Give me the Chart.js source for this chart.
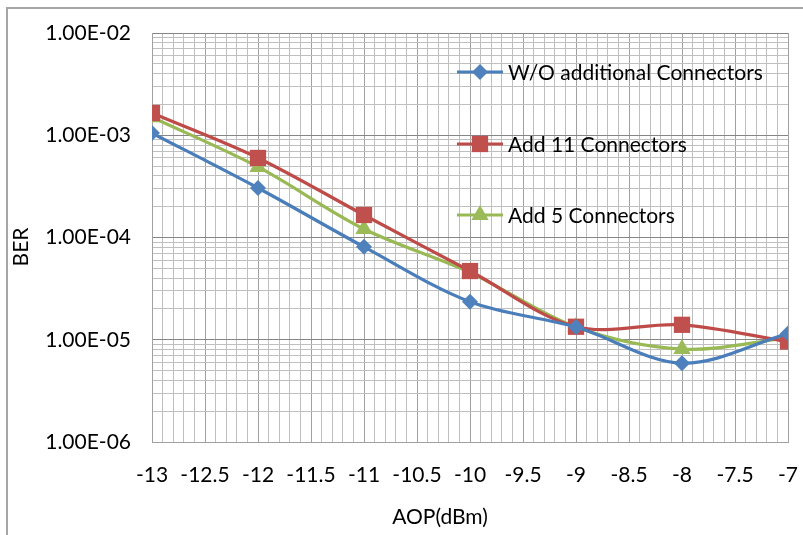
<!DOCTYPE html>
<html>
<head>
<meta charset="utf-8">
<script src="https://cdn.jsdelivr.net/npm/chart.js@4/dist/chart.umd.min.js"></script>
<style>
  html, body { margin: 0; padding: 0; background: #ffffff; }
  #wrap { width: 803px; height: 535px; position: relative; }
</style>
</head>
<body>
<div id="wrap"><canvas id="c" width="803" height="535"></canvas></div>
<script>
// Received optical power (dBm)
const aop = [-13, -12, -11, -10, -9, -8, -7];
// Bit error rate per configuration
const berNone  = [1.05e-3, 3.05e-4, 8.1e-5, 2.35e-5, 1.33e-5, 5.9e-6, 1.15e-5];
const berAdd11 = [1.65e-3, 6.0e-4, 1.66e-4, 4.7e-5, 1.34e-5, 1.4e-5, 9.6e-6];
const berAdd5  = [1.5e-3, 4.9e-4, 1.21e-4, 4.55e-5, 1.33e-5, 8.1e-6, 1.04e-5];
const seriesNames = ['W/O additional Connectors', 'Add 11 Connectors', 'Add 5 Connectors'];

// Axis tick labels
const xTickValues = [-13, -12.5, -12, -11.5, -11, -10.5, -10, -9.5, -9, -8.5, -8, -7.5, -7];
const xTickLabels = ['-13', '-12.5', '-12', '-11.5', '-11', '-10.5', '-10', '-9.5', '-9', '-8.5', '-8', '-7.5', '-7'];
const yTickValues = [1e-6, 1e-5, 1e-4, 1e-3, 1e-2];
const yTickLabels = ['1.00E-06', '1.00E-05', '1.00E-04', '1.00E-03', '1.00E-02'];

const FONT = 'Lato, "Open Sans", sans-serif';
const FSIZE = 21;
const TXT = '#000000';

const palette = [
  { line: '#4a7ebb', fill: '#4f81bd', style: 'rectRot', radius: 8 },
  { line: '#be4b48', fill: '#c0504d', style: 'rect', radius: 11.5 },
  { line: '#98b954', fill: '#9bbb59', style: 'triangle', radius: 10 }
];

const seriesValues = [berNone, berAdd11, berAdd5];
const datasets = seriesValues.map((vals, i) => ({
  label: seriesNames[i],
  data: aop.map((x, k) => ({ x: x, y: vals[k] })),
  borderColor: palette[i].line,
  backgroundColor: palette[i].fill,
  pointBackgroundColor: palette[i].fill,
  pointBorderColor: palette[i].fill,
  pointBorderWidth: 0,
  pointStyle: palette[i].style,
  pointRadius: palette[i].radius,
  pointHoverRadius: palette[i].radius,
  borderWidth: 3.2,
  tension: 0.33,
  fill: false
}));

const isNear = (a, b) => Math.abs(a - b) < 1e-6;

// Frame around the whole chart
const framePlugin = {
  id: 'frame',
  beforeDraw(chart) {
    const ctx = chart.ctx;
    ctx.save();
    ctx.fillStyle = '#ffffff';
    ctx.fillRect(0, 0, chart.width, chart.height);
    ctx.strokeStyle = '#a6a6a6';
    ctx.lineWidth = 2;
    ctx.strokeRect(7, 8, chart.width + 10, chart.height + 10);
    ctx.restore();
  }
};

// Axis titles
const titlePlugin = {
  id: 'axisTitles',
  afterDraw(chart) {
    const ctx = chart.ctx;
    ctx.save();
    ctx.fillStyle = TXT;
    ctx.font = FSIZE + 'px ' + FONT;
    ctx.textAlign = 'center';
    ctx.textBaseline = 'middle';
    ctx.fillText('AOP(dBm)', 440, 517);
    ctx.translate(21, 247);
    ctx.rotate(-Math.PI / 2);
    ctx.fillText('BER', 0, 0);
    ctx.restore();
  }
};

// Legend drawn inside the plot area
const insideLegend = {
  id: 'insideLegend',
  afterDatasetsDraw(chart) {
    const ctx = chart.ctx;
    const rows = [72, 144, 215];
    const x0 = 457, x1 = 503, tx = 508;
    ctx.save();
    chart.data.datasets.forEach((ds, i) => {
      const y = rows[i];
      ctx.strokeStyle = ds.borderColor;
      ctx.lineWidth = ds.borderWidth;
      ctx.beginPath();
      ctx.moveTo(x0, y);
      ctx.lineTo(x1, y);
      ctx.stroke();
      ctx.fillStyle = ds.pointBackgroundColor;
      ctx.strokeStyle = ds.pointBorderColor;
      Chart.helpers.drawPoint(ctx, {
        pointStyle: ds.pointStyle,
        radius: ds.pointRadius,
        borderWidth: 0,
        rotation: 0
      }, (x0 + x1) / 2, y);
      ctx.fillStyle = TXT;
      ctx.font = FSIZE + 'px ' + FONT;
      ctx.textAlign = 'left';
      ctx.textBaseline = 'middle';
      ctx.fillText(ds.label, tx, y + 1);
    });
    ctx.restore();
  }
};

new Chart(document.getElementById('c'), {
  type: 'line',
  data: { datasets: datasets },
  options: {
    responsive: false,
    animation: false,
    devicePixelRatio: 1,
    layout: { padding: { left: 0, top: 33, right: 15, bottom: 0 } },
    plugins: {
      legend: { display: false },
      tooltip: { enabled: false }
    },
    scales: {
      x: {
        type: 'linear',
        min: -13,
        max: -7,
        afterBuildTicks(scale) {
          const ticks = [];
          for (let i = 0; i <= 60; i++) ticks.push({ value: Math.round((-13 + i / 10) * 10) / 10 });
          scale.ticks = ticks;
        },
        afterFit(scale) {
          scale.height = 93;
          scale.paddingLeft = 0;
          scale.paddingRight = 0;
        },
        ticks: {
          autoSkip: false,
          maxRotation: 0,
          minRotation: 0,
          padding: 21,
          color: TXT,
          font: { family: FONT, size: FSIZE },
          callback(value) {
            const k = xTickValues.findIndex(v => isNear(v, value));
            return k >= 0 ? xTickLabels[k] : '';
          }
        },
        grid: {
          drawTicks: false,
          lineWidth: 1,
          color(ctx) {
            const v = ctx.tick ? ctx.tick.value : 0;
            return xTickValues.some(t => isNear(t, v)) ? '#a0a0a0' : '#bfbfbf';
          }
        },
        border: { display: true, color: '#a0a0a0', width: 1 }
      },
      y: {
        type: 'logarithmic',
        min: 1e-6,
        max: 1e-2,
        afterBuildTicks(scale) {
          const ticks = [];
          for (let e = -6; e < -2; e++) {
            for (let m = 1; m <= 9; m++) ticks.push({ value: m * Math.pow(10, e) });
          }
          ticks.push({ value: 1e-2 });
          scale.ticks = ticks;
        },
        afterFit(scale) {
          scale.width = 152;
          scale.paddingTop = 0;
          scale.paddingBottom = 0;
        },
        ticks: {
          autoSkip: false,
          padding: 21,
          color: TXT,
          font: { family: FONT, size: FSIZE },
          callback(value) {
            const k = yTickValues.findIndex(v => Math.abs(v - value) / v < 1e-6);
            return k >= 0 ? yTickLabels[k] : '';
          }
        },
        grid: {
          drawTicks: false,
          lineWidth: 1,
          color(ctx) {
            const v = ctx.tick ? ctx.tick.value : 1;
            return yTickValues.some(t => Math.abs(t - v) / t < 1e-6) ? '#868686' : '#bfbfbf';
          }
        },
        border: { display: true, color: '#a0a0a0', width: 1 }
      }
    }
  },
  plugins: [framePlugin, insideLegend, titlePlugin]
});
</script>
</body>
</html>
